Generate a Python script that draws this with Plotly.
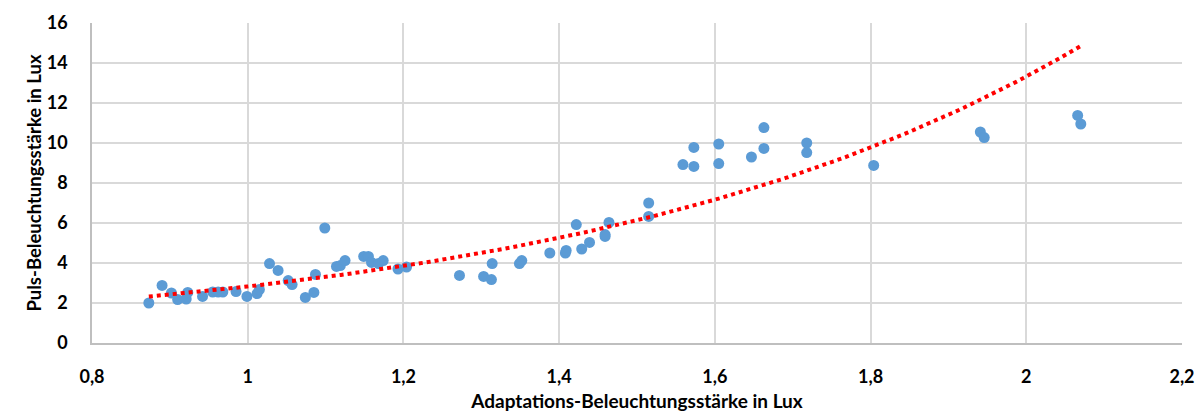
import numpy as np
import plotly.graph_objects as go

# Data
adaptation_lux = [
    0.873, 0.890, 0.902, 0.910, 0.921, 0.923, 0.942, 0.955, 0.962, 0.968,
    0.985, 0.999, 1.012, 1.015, 1.028, 1.039, 1.052, 1.057, 1.074, 1.085,
    1.087, 1.099, 1.114, 1.119, 1.125, 1.149, 1.155, 1.159, 1.168, 1.174,
    1.193, 1.204, 1.272, 1.303, 1.313, 1.314, 1.349, 1.352, 1.388, 1.408,
    1.409, 1.422, 1.429, 1.439, 1.459, 1.459, 1.464, 1.515, 1.515, 1.559,
    1.573, 1.573, 1.605, 1.605, 1.647, 1.663, 1.663, 1.718, 1.718, 1.804,
    1.941, 1.946, 2.066, 2.070,
]
puls_lux = [
    2.00, 2.88, 2.50, 2.17, 2.20, 2.53, 2.33, 2.55, 2.55, 2.55,
    2.57, 2.33, 2.47, 2.67, 3.97, 3.63, 3.12, 2.92, 2.28, 2.53,
    3.43, 5.75, 3.83, 3.87, 4.12, 4.33, 4.33, 4.03, 3.97, 4.12,
    3.70, 3.80, 3.38, 3.33, 3.17, 3.97, 3.97, 4.12, 4.50, 4.50,
    4.63, 5.92, 4.70, 5.03, 5.33, 5.42, 6.03, 7.00, 6.33, 8.92,
    9.78, 8.83, 9.95, 8.97, 9.30, 10.77, 9.73, 10.00, 9.52, 8.88,
    10.55, 10.27, 11.38, 10.95,
]

x_ticks = [0.8, 1.0, 1.2, 1.4, 1.6, 1.8, 2.0, 2.2]
y_ticks = [0, 2, 4, 6, 8, 10, 12, 14, 16]

# Exponential trendline (least squares on ln y, like a spreadsheet trendline)
xs = np.array(adaptation_lux)
ys = np.array(puls_lux)
b, ln_a = np.polyfit(xs, np.log(ys), 1)
a = np.exp(ln_a)
trend_x = np.linspace(xs.min(), xs.max(), 200)
trend_y = a * np.exp(b * trend_x)

FONT = "Lato, 'Open Sans', sans-serif"

fig = go.Figure()
fig.add_trace(go.Scatter(
    x=adaptation_lux, y=puls_lux, mode="markers",
    marker=dict(color="#5B9BD5", size=11, line=dict(width=0)),
    showlegend=False, hoverinfo="x+y",
))
fig.add_trace(go.Scatter(
    x=trend_x, y=trend_y, mode="lines",
    line=dict(color="#FF0000", width=4, dash="4px,4px"),
    showlegend=False, hoverinfo="skip",
))

fig.update_layout(
    width=1197, height=412,
    margin=dict(l=92, r=15, t=23, b=69),
    paper_bgcolor="white", plot_bgcolor="white",
    separators=",.",
    font=dict(family=FONT, size=16, color="#000000"),
    xaxis=dict(
        range=[0.8, 2.2], tickvals=x_ticks, automargin=False,
        showgrid=True, gridcolor="#D9D9D9", gridwidth=1.5,
        showline=True, linecolor="#BFBFBF", linewidth=1.5,
        zeroline=False, ticks="", ticklabelstandoff=17,
        tickfont=dict(family=FONT, size=18, color="#000000", weight="bold"),
        title=dict(text="<b>Adaptations-Beleuchtungsstärke in Lux</b>",
                   font=dict(family=FONT, size=19, color="#000000"),
                   standoff=10),
    ),
    yaxis=dict(
        range=[0, 16], tickvals=y_ticks, automargin=False,
        showgrid=True, gridcolor="#D9D9D9", gridwidth=1.5,
        showline=True, linecolor="#BFBFBF", linewidth=1.5,
        zeroline=False, ticks="", ticklabelstandoff=19,
        tickfont=dict(family=FONT, size=18, color="#000000", weight="bold"),
        title=dict(text="<b>Puls-Beleuchtungsstärke in Lux</b>",
                   font=dict(family=FONT, size=18.5, color="#000000"),
                   standoff=0),
    ),
)

fig.write_html("out.html")
